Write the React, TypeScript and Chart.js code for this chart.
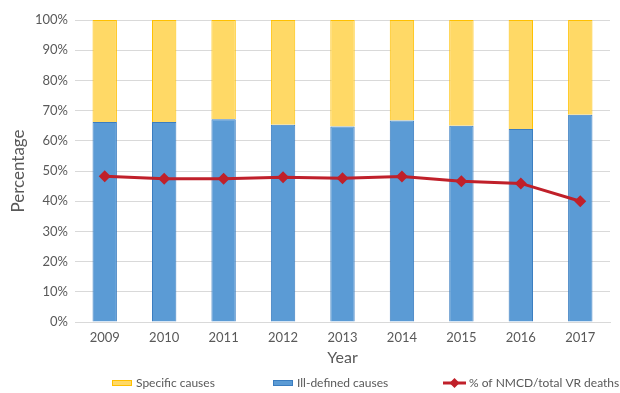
import React, { useEffect, useRef } from "react";
import { Chart, registerables } from "chart.js";

Chart.register(...registerables);

const years = ["2009", "2010", "2011", "2012", "2013", "2014", "2015", "2016", "2017"];
const illDefined = [66.2, 66.2, 67.1, 65.3, 64.7, 66.7, 65.0, 63.9, 68.6];
const specific = illDefined.map((v) => +(100 - v).toFixed(1));
const nmcdShare = [48.3, 47.4, 47.4, 47.9, 47.6, 48.2, 46.6, 45.9, 40.0];

const FONT = "Lato, 'Open Sans', sans-serif";
const TEXT = "#595959";

const legendPlugin = {
  id: "customLegend",
  afterDraw(chart: any) {
    const ctx = chart.ctx;
    const ds = chart.data.datasets;
    const y = 383;
    ctx.save();
    ctx.font = `12px ${FONT}`;
    ctx.fillStyle = TEXT;
    ctx.textBaseline = "middle";
    const items = [
      { i: 1, x: 112, type: "box" },
      { i: 0, x: 273, type: "box" },
      { i: 2, x: 443, type: "line" },
    ];
    items.forEach((it) => {
      const d = ds[it.i];
      if (it.type === "box") {
        ctx.fillStyle = d.backgroundColor;
        ctx.fillRect(it.x, y - 3, 20, 6);
        ctx.strokeStyle = d.borderColor;
        ctx.lineWidth = 1;
        ctx.strokeRect(it.x + 0.5, y - 2.5, 19, 5);
        ctx.fillStyle = TEXT;
        ctx.fillText(d.label, it.x + 24, y);
      } else {
        ctx.strokeStyle = d.borderColor;
        ctx.lineWidth = 3;
        ctx.beginPath();
        ctx.moveTo(it.x, y);
        ctx.lineTo(it.x + 23, y);
        ctx.stroke();
        ctx.fillStyle = d.backgroundColor;
        const cx = it.x + 11.5;
        ctx.beginPath();
        ctx.moveTo(cx, y - 5);
        ctx.lineTo(cx + 5, y);
        ctx.lineTo(cx, y + 5);
        ctx.lineTo(cx - 5, y);
        ctx.closePath();
        ctx.fill();
        ctx.fillStyle = TEXT;
        ctx.fillText(d.label, it.x + 26, y);
      }
    });
    ctx.restore();
  },
};

export default function App() {
  const ref = useRef<HTMLCanvasElement | null>(null);
  useEffect(() => {
    if (!ref.current) return;
    const chart = new Chart(ref.current, {
      type: "bar",
      data: {
        labels: years,
        datasets: [
          {
            label: "Ill-defined causes",
            data: illDefined,
            backgroundColor: "#5B9BD5",
            borderColor: "#3B7DC0",
            borderWidth: 1,
            stack: "bars",
            order: 1,
            barPercentage: 0.41,
            categoryPercentage: 1,
          },
          {
            label: "Specific causes",
            data: specific,
            backgroundColor: "#FFD966",
            borderColor: "#FFC000",
            borderWidth: 1,
            stack: "bars",
            order: 1,
            barPercentage: 0.41,
            categoryPercentage: 1,
          },
          {
            type: "line",
            label: "% of NMCD/total VR deaths",
            data: nmcdShare,
            borderColor: "#C0202A",
            backgroundColor: "#C0202A",
            borderWidth: 3,
            pointStyle: "rectRot",
            pointRadius: 6,
            pointBorderWidth: 0,
            stack: "line",
            order: 0,
          } as any,
        ],
      },
      options: {
        animation: false,
        responsive: true,
        maintainAspectRatio: false,
        layout: { padding: { left: 0, right: 10, top: 20, bottom: 26 } },
        plugins: { legend: { display: false }, tooltip: { enabled: false } },
        scales: {
          x: {
            stacked: true,
            grid: { display: false, drawTicks: false },
            border: { display: true, color: "#D9D9D9" },
            ticks: { color: TEXT, font: { family: FONT, size: 13 }, padding: 8 },
            title: {
              display: true,
              text: "Year",
              color: TEXT,
              font: { family: FONT, size: 16 },
              padding: 0,
            },
            afterFit(scale: any) {
              scale.height = 45;
            },
          },
          y: {
            stacked: true,
            min: 0,
            max: 100,
            grid: { color: "#D9D9D9", drawTicks: false },
            border: { display: false },
            ticks: {
              stepSize: 10,
              color: TEXT,
              font: { family: FONT, size: 13 },
              padding: 7,
              callback: (v: any) => v + "%",
            },
            title: {
              display: true,
              text: "Percentage",
              color: TEXT,
              font: { family: FONT, size: 17 },
              padding: { top: 8, bottom: 0 },
            },
            afterFit(scale: any) {
              scale.width = 75;
            },
          },
        },
      },
      plugins: [legendPlugin],
    });
    return () => chart.destroy();
  }, []);
  return (
    <div style={{ position: "absolute", left: 0, top: 0, width: 620, height: 393 }}>
      <canvas ref={ref} />
    </div>
  );
}
